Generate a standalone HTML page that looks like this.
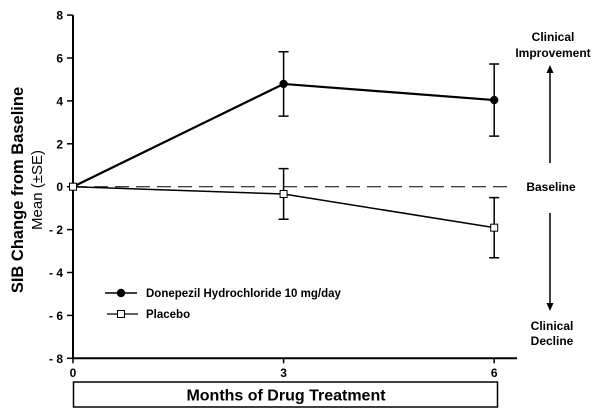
<!DOCTYPE html>
<html><head><meta charset="utf-8"><style>
body{margin:0;background:#fff}
svg{display:block;font-family:"Liberation Sans",Arial,sans-serif}
</style></head><body>
<svg id="chart" width="611" height="414">
<rect width="611" height="414" fill="#fff"/>
<g id="g"></g>
</svg>
<script>
const months=[0,3,6];
const donepezilMean=[0,4.79,4.04];
const donepezilSE=[0,1.5,1.68];
const placeboMean=[0,-0.34,-1.91];
const placeboSE=[0,1.18,1.4];
const yTicks=[8,6,4,2,0,-2,-4,-6,-8];
const yTickLabels=["8","6","4","2","0","- 2","- 4","- 6","- 8"];
const xTicks=[0,3,6];

const NS="http://www.w3.org/2000/svg";
const g=document.getElementById('g');
const X=v=>73+v*70.2;
const Y=v=>186.7-v*21.45;
function el(t,a,txt){const e=document.createElementNS(NS,t);for(const k in a)e.setAttribute(k,a[k]);if(txt!==undefined)e.textContent=txt;g.appendChild(e);return e;}

let e;
e=el('line',{x1:73,y1:Y(8),x2:73,y2:Y(-8),stroke:'#000','stroke-width':2});


e=el('line',{x1:72,y1:Y(-8),x2:517,y2:Y(-8),stroke:'#000','stroke-width':2});


yTicks.forEach((v,i)=>{
  e=el('line',{x1:67,y1:Y(v),x2:73,y2:Y(v),stroke:'#000','stroke-width':1.5});
  
  
  e=el('text',{x:63,y:Y(v)+4.5,'text-anchor':'end','font-size':12,'font-weight':'bold'},yTickLabels[i]);
  
  
});
xTicks.forEach(v=>{
  e=el('line',{x1:X(v),y1:Y(-8),x2:X(v),y2:Y(-8)+5,stroke:'#000','stroke-width':1.5});
  
  
  e=el('text',{x:X(v),y:377,'text-anchor':'middle','font-size':12,'font-weight':'bold'},String(v));
  
  
});
e=el('line',{x1:73,y1:Y(0),x2:507,y2:Y(0),stroke:'#000','stroke-width':1,'stroke-dasharray':'14,7'});



function series(mean,se,w,name){
  const pts=months.map((m,i)=>X(m)+','+Y(mean[i])).join(' ');
  e=el('polyline',{points:pts,fill:'none',stroke:'#000','stroke-width':w});
  
  
  months.forEach((m,i)=>{
    if(se[i]>0){
      const x=X(m),t=Y(mean[i]+se[i]),b=Y(mean[i]-se[i]);
      e=el('path',{d:`M${x},${t}V${b}M${x-5},${t}H${x+5}M${x-5},${b}H${x+5}`,stroke:'#000','stroke-width':1.5,fill:'none'});
      
      
    }
  });
}
series(placeboMean,placeboSE,1.5,'placebo');
series(donepezilMean,donepezilSE,2.2,'donepezil');
months.forEach((m,i)=>{
  e=el('circle',{cx:X(m),cy:Y(donepezilMean[i]),r:4.2,fill:'#000'});
  
  
});
months.forEach((m,i)=>{
  e=el('rect',{x:X(m)-3.5,y:Y(placeboMean[i])-3.5,width:7,height:7,fill:'#fff',stroke:'#000','stroke-width':1});
  
  
});

// legend
e=el('line',{x1:105,y1:293,x2:137,y2:293,stroke:'#000','stroke-width':1.5});


e=el('circle',{cx:121,cy:293,r:4.2,fill:'#000'});


e=el('text',{x:146,y:297,'font-size':11.5,'font-weight':'bold'},'Donepezil Hydrochloride 10 mg/day');


e=el('line',{x1:107,y1:314,x2:138,y2:314,stroke:'#000','stroke-width':1.2});


e=el('rect',{x:117.5,y:310.5,width:7,height:7,fill:'#fff',stroke:'#000','stroke-width':1});


e=el('text',{x:146,y:318,'font-size':11.5,'font-weight':'bold'},'Placebo');



// axis titles
e=el('text',{x:0,y:0,transform:'translate(23,190) rotate(-90)','text-anchor':'middle','font-size':16.5,'font-weight':'bold'},'SIB Change from Baseline');


e=el('text',{x:0,y:0,transform:'translate(42,190) rotate(-90)','text-anchor':'middle','font-size':15},'Mean (±SE)');


e=el('rect',{x:73.5,y:382,width:424,height:25,fill:'#fff',stroke:'#000','stroke-width':1.5});


e=el('text',{x:286,y:400.5,'text-anchor':'middle','font-size':16,'font-weight':'bold'},'Months of Drug Treatment');



// right annotations
[['Clinical',41],['Improvement',57]].forEach(([t,y])=>{
  e=el('text',{x:553,y:y,'text-anchor':'middle','font-size':12,'font-weight':'bold'},t);
  
  
});
e=el('text',{x:551,y:191,'text-anchor':'middle','font-size':12,'font-weight':'bold'},'Baseline');


[['Clinical',330],['Decline',345]].forEach(([t,y])=>{
  e=el('text',{x:552,y:y,'text-anchor':'middle','font-size':12,'font-weight':'bold'},t);
  
  
});
e=el('path',{d:'M550,163V72',stroke:'#000','stroke-width':1.5});


e=el('path',{d:'M550,65L546.5,73H553.5Z',fill:'#000'});


e=el('path',{d:'M550,213V304',stroke:'#000','stroke-width':1.5});


e=el('path',{d:'M550,311L546.5,303H553.5Z',fill:'#000'});


</script>
</body></html>
